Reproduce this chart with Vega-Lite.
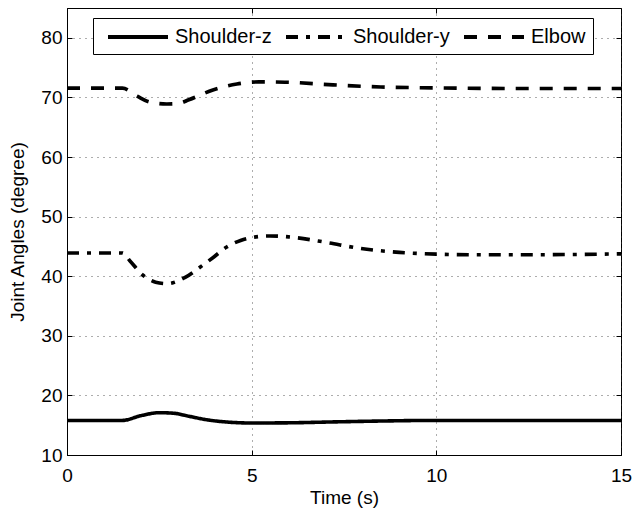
{
  "$schema": "https://vega.github.io/schema/vega-lite/v6.json",
  "width": 554,
  "height": 447,
  "autosize": "none",
  "padding": {"left": 67, "top": 8, "right": 14, "bottom": 56},
  "background": "white",
  "config": {
    "font": "Liberation Sans",
    "view": {"stroke": "black", "strokeWidth": 1},
    "axis": {
      "domainColor": "black",
      "tickColor": "black",
      "labelColor": "black",
      "titleColor": "black",
      "labelFont": "Liberation Sans",
      "titleFont": "Liberation Sans",
      "labelFontSize": 19,
      "titleFontSize": 19,
      "titleFontWeight": "normal",
      "gridColor": "#333",
      "gridDash": [1, 5],
      "gridOpacity": 0.8
    }
  },
  "data": {
    "values": [
      {"t": 0, "v": 15.8, "s": "Shoulder-z"},
      {"t": 1.5, "v": 15.8, "s": "Shoulder-z"},
      {"t": 2.0, "v": 16.6, "s": "Shoulder-z"},
      {"t": 2.5, "v": 17.1, "s": "Shoulder-z"},
      {"t": 2.9, "v": 17.0, "s": "Shoulder-z"},
      {"t": 3.3, "v": 16.5, "s": "Shoulder-z"},
      {"t": 3.8, "v": 15.9, "s": "Shoulder-z"},
      {"t": 4.2, "v": 15.6, "s": "Shoulder-z"},
      {"t": 5.0, "v": 15.37, "s": "Shoulder-z"},
      {"t": 6.0, "v": 15.4, "s": "Shoulder-z"},
      {"t": 7.2, "v": 15.55, "s": "Shoulder-z"},
      {"t": 8.5, "v": 15.7, "s": "Shoulder-z"},
      {"t": 9.9, "v": 15.8, "s": "Shoulder-z"},
      {"t": 12, "v": 15.8, "s": "Shoulder-z"},
      {"t": 15, "v": 15.8, "s": "Shoulder-z"},
      {"t": 0, "v": 43.9, "s": "Shoulder-y"},
      {"t": 1.5, "v": 43.9, "s": "Shoulder-y"},
      {"t": 1.7, "v": 42.6, "s": "Shoulder-y"},
      {"t": 2.05, "v": 40.2, "s": "Shoulder-y"},
      {"t": 2.4, "v": 39.0, "s": "Shoulder-y"},
      {"t": 2.7, "v": 38.75, "s": "Shoulder-y"},
      {"t": 3.2, "v": 39.8, "s": "Shoulder-y"},
      {"t": 3.6, "v": 41.5, "s": "Shoulder-y"},
      {"t": 3.95, "v": 43.1, "s": "Shoulder-y"},
      {"t": 4.3, "v": 44.8, "s": "Shoulder-y"},
      {"t": 4.7, "v": 46.0, "s": "Shoulder-y"},
      {"t": 5.0, "v": 46.5, "s": "Shoulder-y"},
      {"t": 5.5, "v": 46.75, "s": "Shoulder-y"},
      {"t": 6.0, "v": 46.6, "s": "Shoulder-y"},
      {"t": 7.0, "v": 45.7, "s": "Shoulder-y"},
      {"t": 7.9, "v": 44.7, "s": "Shoulder-y"},
      {"t": 9.0, "v": 44.0, "s": "Shoulder-y"},
      {"t": 10.0, "v": 43.7, "s": "Shoulder-y"},
      {"t": 11.0, "v": 43.6, "s": "Shoulder-y"},
      {"t": 12.5, "v": 43.6, "s": "Shoulder-y"},
      {"t": 15, "v": 43.75, "s": "Shoulder-y"},
      {"t": 0, "v": 71.55, "s": "Elbow"},
      {"t": 1.5, "v": 71.55, "s": "Elbow"},
      {"t": 1.9, "v": 70.2, "s": "Elbow"},
      {"t": 2.25, "v": 69.2, "s": "Elbow"},
      {"t": 2.7, "v": 68.9, "s": "Elbow"},
      {"t": 3.0, "v": 68.95, "s": "Elbow"},
      {"t": 3.3, "v": 69.6, "s": "Elbow"},
      {"t": 3.95, "v": 71.25, "s": "Elbow"},
      {"t": 4.6, "v": 72.25, "s": "Elbow"},
      {"t": 5.2, "v": 72.6, "s": "Elbow"},
      {"t": 5.9, "v": 72.55, "s": "Elbow"},
      {"t": 7.2, "v": 72.1, "s": "Elbow"},
      {"t": 8.5, "v": 71.75, "s": "Elbow"},
      {"t": 9.9, "v": 71.6, "s": "Elbow"},
      {"t": 12, "v": 71.5, "s": "Elbow"},
      {"t": 15, "v": 71.5, "s": "Elbow"}
    ]
  },
  "resolve": {"axis": {"x": "independent", "y": "independent"}},
  "layer": [
    {
      "mark": {"type": "line", "interpolate": "monotone", "strokeWidth": 3.6, "color": "black", "strokeCap": "butt"},
      "encoding": {
        "x": {
          "field": "t", "type": "quantitative",
          "scale": {"domain": [0, 15], "nice": false, "zero": false},
          "axis": {"title": "Time (s)", "values": [0, 5, 10, 15], "grid": true, "tickSize": -5, "labelPadding": 16, "titlePadding": 3, "labelFlush": false}
        },
        "y": {
          "field": "v", "type": "quantitative",
          "scale": {"domain": [10, 85], "nice": false, "zero": false},
          "axis": {"title": "Joint Angles (degree)", "values": [10, 20, 30, 40, 50, 60, 70, 80], "grid": true, "tickSize": -5, "labelPadding": 10, "titlePadding": 13, "labelFlush": false}
        },
        "strokeDash": {
          "field": "s", "type": "nominal",
          "scale": {"domain": ["Shoulder-z", "Shoulder-y", "Elbow"], "range": [[1, 0], [12, 8, 4, 8], [13, 11]]},
          "legend": {
            "title": null,
            "orient": "none",
            "legendX": 26,
            "legendY": 10,
            "direction": "horizontal",
            "strokeColor": "black",
            "fillColor": "white",
            "padding": 7,
            "symbolType": "M-3,0H3",
            "symbolSize": 400,
            "symbolOffset": 26,
            "symbolStrokeWidth": 4,
            "symbolStrokeColor": "black",
            "labelFontSize": 20,
            "labelFont": "Liberation Sans",
            "labelColor": "black",
            "labelOffset": 25,
            "columnPadding": 6
          }
        }
      }
    },
    {
      "mark": {"type": "line", "opacity": 0},
      "encoding": {
        "x": {
          "field": "t", "type": "quantitative",
          "axis": {"orient": "top", "title": null, "values": [0, 5, 10, 15], "labels": false, "grid": false, "tickSize": -5, "domain": false}
        },
        "y": {
          "field": "v", "type": "quantitative",
          "axis": {"orient": "right", "title": null, "values": [10, 20, 30, 40, 50, 60, 70, 80], "labels": false, "grid": false, "tickSize": -5, "domain": false}
        },
        "detail": {"field": "s"}
      }
    }
  ]
}
